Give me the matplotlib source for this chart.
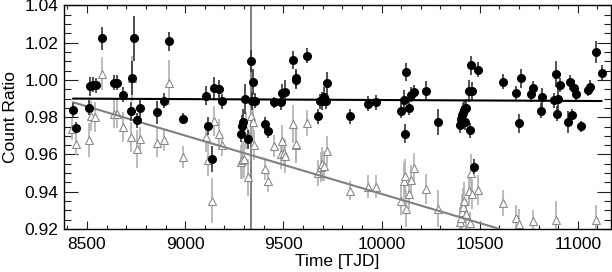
import numpy as np
import matplotlib
matplotlib.use("Agg")
import matplotlib.pyplot as plt
from matplotlib.ticker import MultipleLocator

plt.rcParams['font.family'] = ['Liberation Sans', 'DejaVu Sans']

# black circles: time, ratio, error
t_blk = [8430, 8443, 8511, 8517, 8530, 8545, 8574, 8638, 8652, 8681, 8723, 8731, 8737,
         8753, 8769, 8859, 8893, 8918, 8989, 9104, 9118, 9135, 9147, 9172, 9189, 9282,
         9291, 9296, 9305, 9321, 9337, 9345, 9338, 9355, 9406, 9423, 9452, 9486, 9494,
         9508, 9549, 9562, 9567, 9622, 9677, 9689, 9698, 9706, 9715, 9723, 9839, 9930,
         9974, 10101, 10113, 10122, 10127, 10139, 10152, 10167, 10227, 10288, 10401,
         10406, 10411, 10416, 10421, 10430, 10425, 10444, 10449, 10456, 10461, 10469,
         10491, 10617, 10685, 10700, 10709, 10761, 10770, 10812, 10818, 10880, 10888,
         10895, 10900, 10908, 10951, 10959, 10968, 10980, 10993, 11014, 11052, 11064,
         11091, 11121]
v_blk = [0.9837, 0.9743, 0.9850, 0.9965, 0.9975, 0.9972, 1.0223, 0.9985, 0.9985, 0.9920,
         0.9832, 1.0012, 1.0223, 0.9784, 0.9850, 0.9826, 0.9888, 1.0207, 0.9791, 0.9915,
         0.9752, 0.9576, 0.9955, 0.9952, 0.9885, 0.9708, 0.9752, 0.9775, 0.9899, 0.9682,
         1.0103, 0.9990, 0.9888, 0.9888, 0.9761, 0.9726, 0.9881, 0.9881, 0.9929, 0.9938,
         1.0108, 1.0000, 1.0008, 1.0131, 0.9805, 0.9885, 0.9888, 0.9910, 0.9885, 0.9985,
         0.9805, 0.9872, 0.9881, 0.9835, 0.9894, 0.9712, 1.0043, 0.9850, 0.9920, 0.9934,
         0.9943, 0.9775, 0.9758, 0.9790, 0.9810, 0.9825, 0.9838, 0.9850, 0.9774, 0.9941,
         0.9730, 1.0079, 0.9941, 0.9534, 1.0056, 0.9991, 0.9929, 0.9767, 1.0008, 0.9923,
         0.9955, 0.9835, 0.9907, 0.9890, 1.0034, 0.9820, 0.9897, 0.9973, 0.9774, 0.9987,
         0.9814, 0.9959, 0.9925, 0.9751, 0.9945, 0.9962, 1.0149, 1.0039]
e_blk = [0.004, 0.003, 0.004, 0.005, 0.004, 0.004, 0.006, 0.004, 0.004, 0.004,
         0.005, 0.009, 0.012, 0.004, 0.005, 0.006, 0.004, 0.005, 0.003, 0.005,
         0.005, 0.007, 0.006, 0.005, 0.004, 0.004, 0.006, 0.007, 0.008, 0.005,
         0.006, 0.007, 0.005, 0.004, 0.004, 0.004, 0.003, 0.004, 0.005, 0.006,
         0.005, 0.005, 0.005, 0.004, 0.004, 0.004, 0.005, 0.005, 0.004, 0.006,
         0.004, 0.004, 0.004, 0.004, 0.005, 0.005, 0.005, 0.004, 0.004, 0.004,
         0.005, 0.007, 0.004, 0.005, 0.005, 0.005, 0.005, 0.005, 0.004, 0.006,
         0.004, 0.005, 0.005, 0.004, 0.004, 0.004, 0.004, 0.005, 0.005, 0.004,
         0.004, 0.004, 0.005, 0.004, 0.007, 0.004, 0.006, 0.004, 0.006, 0.004,
         0.003, 0.004, 0.004, 0.003, 0.003, 0.004, 0.006, 0.004]

# grey triangles: time, ratio, error
t_tri = [8426, 8443, 8511, 8519, 8540, 8574, 8638, 8652, 8681, 8723, 8731, 8753, 8769,
         8857, 8894, 8918, 8989, 9104, 9118, 9135, 9147, 9172, 9189, 9282, 9291, 9300,
         9311, 9321, 9337, 9347, 9350, 9406, 9423, 9452, 9486, 9491, 9503, 9508, 9549,
         9562, 9567, 9622, 9677, 9690, 9698, 9706, 9723, 9839, 9930, 9974, 10101, 10113,
         10122, 10127, 10139, 10152, 10167, 10227, 10288, 10401, 10406, 10411, 10416,
         10421, 10430, 10444, 10449, 10456, 10461, 10491, 10617, 10685, 10700, 10770,
         10888, 11091]
v_tri = [0.9737, 0.9659, 0.9677, 0.9805, 0.9800, 1.0034, 0.9820, 0.9820, 0.9747, 0.9694,
         1.0008, 0.9629, 0.9685, 0.9664, 0.9677, 0.9985, 0.9585, 0.9694, 0.9572, 0.9353,
         0.9779, 0.9712, 0.9652, 0.9560, 0.9570, 0.9575, 0.9730, 0.9477, 0.9805, 0.9775,
         0.9649, 0.9521, 0.9459, 0.9647, 0.9600, 0.9670, 0.9608, 0.9593, 0.9764, 0.9652,
         0.9659, 0.9770, 0.9503, 0.9535, 0.9550, 0.9540, 0.9620, 0.9406, 0.9428, 0.9428,
         0.9353, 0.9459, 0.9485, 0.9310, 0.9389, 0.9463, 0.9530, 0.9415, 0.9310, 0.9240,
         0.9260, 0.9290, 0.9320, 0.9350, 0.9280, 0.9406, 0.9234, 0.9503, 0.9389, 0.9410,
         0.9339, 0.9260, 0.9226, 0.9244, 0.9251, 0.9248]
e_tri = [0.006, 0.006, 0.009, 0.008, 0.008, 0.009, 0.008, 0.008, 0.008, 0.008,
         0.012, 0.010, 0.006, 0.008, 0.006, 0.012, 0.006, 0.008, 0.009, 0.012,
         0.008, 0.008, 0.006, 0.009, 0.010, 0.010, 0.010, 0.010, 0.010, 0.008,
         0.008, 0.006, 0.006, 0.006, 0.008, 0.009, 0.007, 0.009, 0.010, 0.010,
         0.010, 0.007, 0.007, 0.008, 0.009, 0.008, 0.008, 0.005, 0.006, 0.006,
         0.008, 0.010, 0.009, 0.010, 0.008, 0.008, 0.008, 0.008, 0.010, 0.008,
         0.008, 0.010, 0.010, 0.010, 0.008, 0.008, 0.006, 0.010, 0.008, 0.008,
         0.007, 0.007, 0.008, 0.006, 0.010, 0.008]

# linear fits
fit_t = [8430, 11120]
fit_blk = [0.9900, 0.9887]
fit_tri = [0.9880, 0.9038]

t_mark = 9335

fig = plt.figure(figsize=(6.12, 2.72), dpi=100)
ax = fig.add_axes([0.1046, 0.158, 0.8935, 0.822])

ax.axvline(t_mark, color='#777777', lw=1.3, zorder=1)

ax.errorbar(t_tri, v_tri, yerr=e_tri, fmt='^', ms=5.5, mfc='white', mec='#8a8a8a',
            mew=0.8, ecolor='#b0b0b0', elinewidth=1.2, capsize=0, zorder=2)
ax.plot(fit_t, fit_tri, color='#808080', lw=1.5, zorder=3)

ax.errorbar(t_blk, v_blk, yerr=e_blk, fmt='o', ms=5.5, mfc='black', mec='black',
            ecolor='#333333', elinewidth=1.2, capsize=0, zorder=4)
ax.plot(fit_t, fit_blk, color='black', lw=1.5, zorder=5)

ax.set_xlim(8383, 11168)
ax.set_ylim(0.92, 1.04)
ax.xaxis.set_major_locator(MultipleLocator(500))
ax.xaxis.set_minor_locator(MultipleLocator(100))
ax.yaxis.set_major_locator(MultipleLocator(0.02))
ax.yaxis.set_minor_locator(MultipleLocator(0.005))
ax.yaxis.set_major_formatter(plt.FuncFormatter(lambda v, p: f"{v:.2f}"))

ax.tick_params(axis='both', which='both', direction='in', top=True, right=True,
               labelsize=12.5, width=0.8, color='#222222')
ax.tick_params(axis='x', which='major', length=6, pad=6)
ax.tick_params(axis='x', which='minor', length=3)
ax.tick_params(axis='y', which='major', length=10, pad=4)
ax.tick_params(axis='y', which='minor', length=5)
for s in ax.spines.values():
    s.set_linewidth(1.0)

ax.set_xlabel('Time [TJD]', fontsize=12.5, labelpad=1)
ax.set_ylabel('Count Ratio', fontsize=12.5, labelpad=5)

fig.savefig('out.png', dpi=100)
